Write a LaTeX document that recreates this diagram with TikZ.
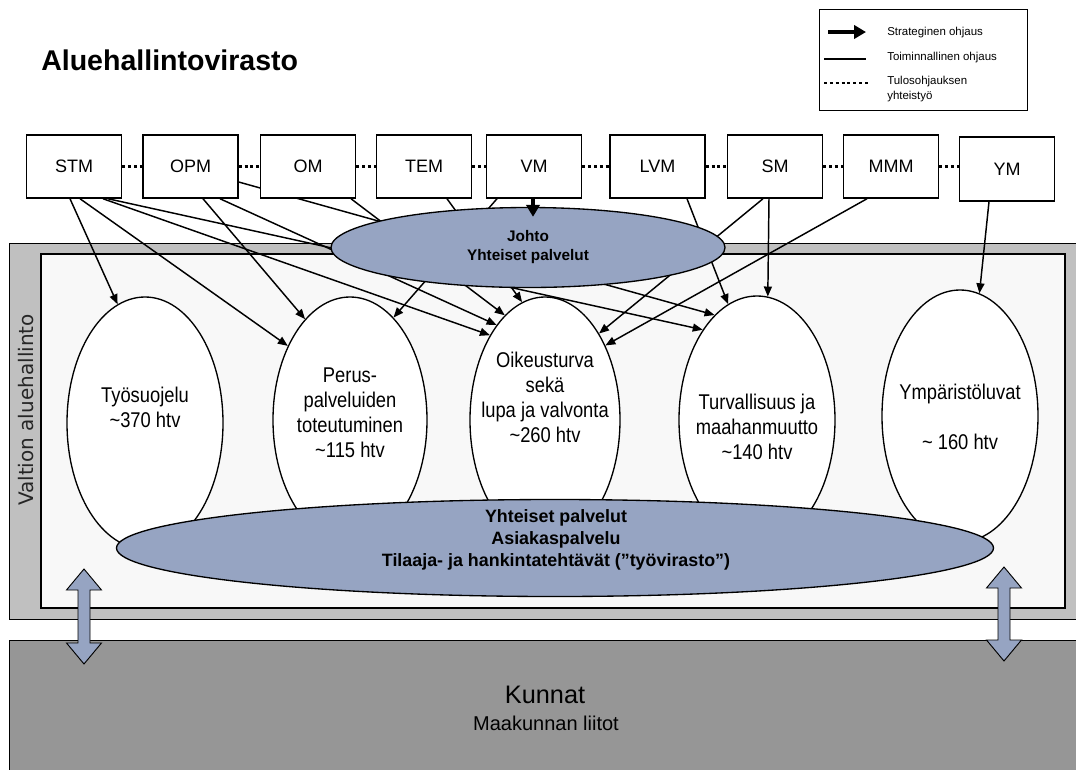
\documentclass[tikz,border=0pt]{standalone}
\usepackage{fontspec}
\setmainfont{Liberation Sans}
\newfontfamily\narrowf[FakeStretch=0.86]{Liberation Sans}
\newfontfamily\djv{DejaVu Sans}
\usetikzlibrary{shapes.geometric,arrows.meta,calc}
\pgfdeclarelayer{back}
\pgfdeclarelayer{front}
\pgfsetlayers{back,main,front}
\definecolor{bluefill}{RGB}{150,164,194}
\definecolor{framegray}{RGB}{192,192,192}
\definecolor{innerfill}{RGB}{248,248,248}
\definecolor{basegray}{RGB}{150,150,150}
\tikzset{
  box/.style={draw, line width=1.1pt, fill=white, minimum width=71.25pt, minimum height=47.25pt,
    inner sep=0pt, font=\fontsize{13.5}{16}\selectfont},
  oval/.style={ellipse, draw, fill=white, line width=1pt, inner sep=0pt},
  ovaltext/.style={align=center, inner sep=0pt, font=\narrowf\fontsize{16}{18.75}\selectfont},
  blueoval/.style={ellipse, draw, fill=bluefill, line width=1pt, inner sep=0pt},
  con/.style={line width=1.1pt, -{Triangle[length=7.5pt,width=6pt]}},
  strat/.style={line width=2.8pt, -{Triangle[length=9pt,width=10pt]}},
  dots/.style={line width=2.2pt, dash pattern=on 2.2pt off 2.2pt},
  legtext/.style={anchor=west, inner sep=0pt, align=left, font=\fontsize{8.6}{11.25}\selectfont},
  dblarrow/.style={draw, fill=bluefill, line width=0.7pt, line join=miter}
}
\begin{document}
\begin{tikzpicture}[x=0.75pt,y=-0.75pt]
\useasboundingbox (0,0) rectangle (1076,769);
\clip (0,0) rectangle (1076,769);

% ---------- background frames ----------
\begin{pgfonlayer}{back}
\node[draw, fill=basegray, line width=1pt, anchor=north west, minimum width=807pt, minimum height=105pt, inner sep=0pt] (kunnatbox) at (9,640) {};
\node[draw, fill=framegray, line width=0.7pt, anchor=north west, minimum width=807pt, minimum height=282pt, inner sep=0pt] (frame) at (9,243) {};
\node[draw, fill=innerfill, line width=1.5pt, anchor=north west, minimum width=768pt, minimum height=265.5pt, inner sep=0pt] (inner) at (40,253) {};
\node[rotate=90, inner sep=0pt, text=black!85, font=\djv\fontsize{15}{18}\selectfont] (valtion) at (26,410) {Valtion aluehallinto};
\end{pgfonlayer}

% ---------- title ----------
\node[anchor=base west, inner sep=0pt, font=\bfseries\fontsize{21.4}{25}\selectfont] (title) at (41,70) {Aluehallintovirasto};

% ---------- legend ----------
\node[draw, line width=0.8pt, anchor=north west, minimum width=156pt, minimum height=75.75pt, inner sep=0pt] (legend) at (819,9) {};
\coordinate (l1a) at (828,32);
\coordinate (l1b) at (866,32);
\coordinate (l2a) at (824,59);
\coordinate (l2b) at (866,59);
\coordinate (l3a) at (824,83);
\coordinate (l3b) at (868,83);
\draw[strat] (l1a) -- (l1b);
\draw[line width=2.2pt] (l2a) -- (l2b);
\draw[dots] (l3a) -- (l3b);
\node[legtext] (lt1) at (887,33) {Strateginen ohjaus};
\node[legtext] (lt2) at (887,58) {Toiminnallinen ohjaus};
\node[legtext] (lt3) at (887,89.5) {Tulosohjauksen\\yhteistyö};

% ---------- unit ellipses ----------
\node[oval, minimum width=117pt, minimum height=189pt] (tyo) at (145,423) {};
\node[oval, minimum width=115.5pt, minimum height=184.5pt] (perus) at (350,420) {};
\node[oval, minimum width=112.5pt, minimum height=184.5pt] (oik) at (545,420) {};
\node[oval, minimum width=117pt, minimum height=186pt] (turv) at (757,420) {};
\node[oval, minimum width=117pt, minimum height=189pt] (ymp) at (960,416) {};

\node[ovaltext] (tyotxt) at (145,407) {Työsuojelu\\\textasciitilde370 htv};
\node[ovaltext] (perustxt) at (350,413) {Perus-\\palveluiden\\toteutuminen\\\textasciitilde115 htv};
\node[ovaltext] (oiktxt) at (545,397) {Oikeusturva\\sekä\\lupa ja valvonta\\\textasciitilde260 htv};
\node[ovaltext] (turvtxt) at (757,427) {Turvallisuus ja\\maahanmuutto\\\textasciitilde140 htv};
\node[ovaltext] (ymptxt) at (960,417) {Ympäristöluvat\\[18.75pt]\textasciitilde\ 160 htv};

% ---------- bottom common services ----------
\node[blueoval, minimum width=657.75pt, minimum height=72.75pt] (yhp) at (555,548) {};
\node[align=center, inner sep=0pt, font=\bfseries\fontsize{13.4}{16.5}\selectfont] (yhptxt) at (556,540)
  {Yhteiset palvelut\\Asiakaspalvelu\\Tilaaja- ja hankintatehtävät (”työvirasto”)};

% ---------- Kunnat ----------
\node[inner sep=0pt, font=\fontsize{19}{22}\selectfont] (kunnat) at (545,695) {Kunnat};
\node[inner sep=0pt, font=\fontsize{15}{18}\selectfont] (liitot) at (546,723) {Maakunnan liitot};

% ---------- double arrows ----------
\draw[dblarrow] (84,569) -- (101.5,590) -- (90,590) -- (90,643) -- (101.5,643) -- (84,664)
  -- (66.5,643) -- (78,643) -- (78,590) -- (66.5,590) -- cycle;
\draw[dblarrow] (1004,567) -- (1021.5,588) -- (1010,588) -- (1010,640) -- (1021.5,640) -- (1004,661)
  -- (986.5,640) -- (998,640) -- (998,588) -- (986.5,588) -- cycle;

% ---------- ministries and Johto (front) ----------
\begin{pgfonlayer}{front}
\node[box] (stm) at (74,166.5) {STM};
\node[box] (opm) at (190.5,166.5) {OPM};
\node[box] (om) at (308,166.5) {OM};
\node[box] (tem) at (424,166.5) {TEM};
\node[box] (vm) at (534,166.5) {VM};
\node[box] (lvm) at (657.5,166.5) {LVM};
\node[box] (sm) at (775,166.5) {SM};
\node[box] (mmm) at (891,166.5) {MMM};
\node[box, minimum height=48pt] (ym) at (1007,169) {YM};
\node[blueoval, minimum width=295.5pt, minimum height=60pt, align=center,
  font=\bfseries\fontsize{11.5}{14.25}\selectfont] (johto) at (528,247.5) {Johto\\Yhteiset palvelut};
\end{pgfonlayer}

% dotted cooperation links
\draw[dots] (stm.east) -- (opm.west);
\draw[dots] (opm.east) -- (om.west);
\draw[dots] (om.east) -- (tem.west);
\draw[dots] (tem.east) -- (vm.west);
\draw[dots] (vm.east) -- (lvm.west);
\draw[dots] (lvm.east) -- (sm.west);
\draw[dots] (sm.east) -- (mmm.west);
\draw[dots] (mmm.east) -- (mmm.east -| ym.west);

% ---------- steering connectors ----------
\draw[con] ($(stm.south)+(-4,0)$) -- (tyo.103);
\draw[con] ($(stm.south)+(6,0)$) -- (perus.130);
\draw[con] ($(stm.south)+(29,0)$) -- (oik.123);
\draw[con] ($(stm.south)+(34,0)$) -- (turv.121);
\draw[con] ($(opm.south)+(12.5,0)$) -- (perus.114);
\draw[con] ($(opm.south)+(29.5,0)$) -- (oik.117);
\draw[con] ($(opm.east)+(0,15.5)$) -- (turv.112);
\draw[con] ($(om.south)+(43,0)$) -- (oik.111);
\draw[con] ($(tem.south)+(23,0)$) -- (oik.101);
\draw[con] ($(vm.south)+(-37,0)$) -- (perus.67);
\draw[con] ($(lvm.south)+(29.5,0)$) -- (turv.104);
\draw[con] ($(sm.south)+(-12,0)$) -- (oik.58);
\draw[con] ($(sm.south)+(-6,0)$) -- (turv.85);
\draw[con] ($(mmm.south)+(-24,0)$) -- (oik.51);
\draw[con] ($(ym.south)+(-18,0)$) -- (ymp.81);
\begin{pgfonlayer}{front}
\draw[strat] ($(vm.south)+(-1,0)$) -- ($(johto.north)+(5,10)$);
\end{pgfonlayer}
\end{tikzpicture}
\end{document}
